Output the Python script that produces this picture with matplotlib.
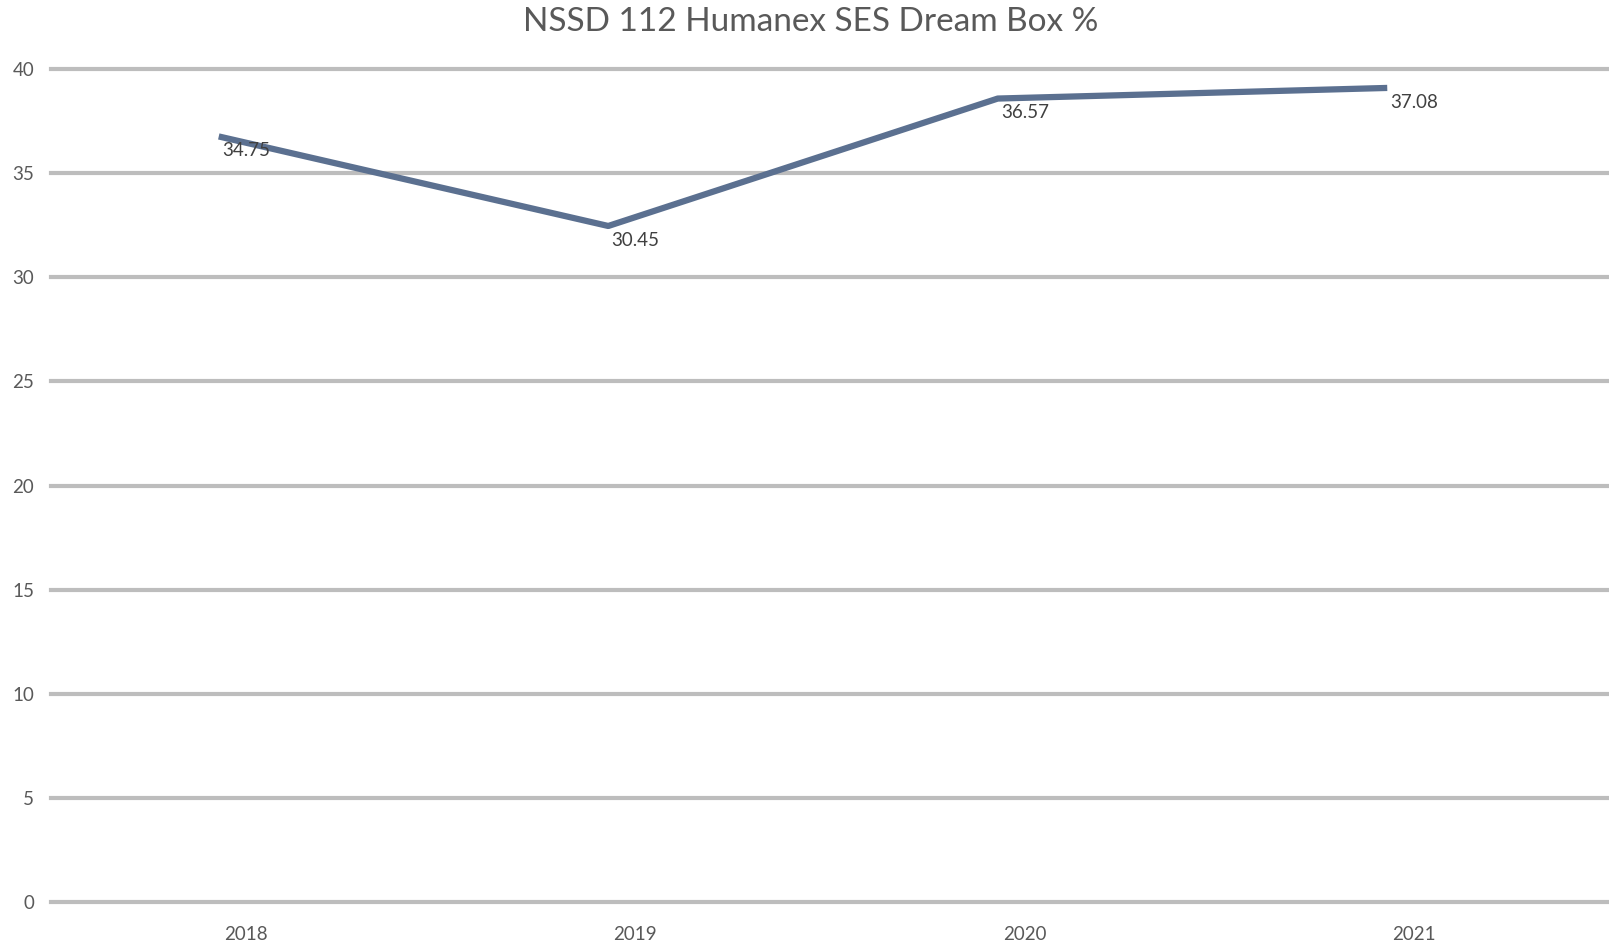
import numpy as np
import matplotlib.pyplot as plt
from matplotlib.transforms import ScaledTranslation

# data
years = ['2018', '2019', '2020', '2021']
dream_box = [34.75, 30.45, 36.57, 37.08]
yticks = [0, 5, 10, 15, 20, 25, 30, 35, 40]

plt.rcParams['font.family'] = ['Lato', 'DejaVu Sans']

fig = plt.figure(figsize=(16.09, 9.47), dpi=100)
ax = fig.add_axes([0.0317, 0.0475, 0.9683, 0.8795])

x = np.arange(len(years))

# the line in the source sits a bit up and left of the labelled values
shift = ScaledTranslation(-0.27, 0.42, fig.dpi_scale_trans)
ax.plot(x, dream_box, color='#5b7090', lw=4.5, solid_capstyle='butt',
        transform=ax.transData + shift, zorder=3)

for i, v in enumerate(dream_box):
    ax.annotate(f'{v:.2f}', (i, v), xytext=(0, 20), textcoords='offset points',
                ha='center', va='center', fontsize=13.5, color='#404040', zorder=4)

ax.set_xlim(-0.5, len(years) - 0.5)
ax.set_ylim(0, 40)
ax.set_xticks(x)
ax.set_xticklabels(years)
ax.set_yticks(yticks)
ax.tick_params(axis='both', length=0, labelsize=13.5, labelcolor='#595959')
ax.tick_params(axis='x', pad=17)
ax.tick_params(axis='y', pad=12)
ax.grid(axis='y', color='#bdbdbd', lw=3)
for gl in ax.get_ygridlines():
    gl.set_clip_on(False)
ax.set_axisbelow(True)
for s in ax.spines.values():
    s.set_visible(False)

fig.suptitle('NSSD 112 Humanex SES Dream Box %', x=0.504, y=0.977, va='center',
             fontsize=24, color='#595959')

fig.savefig('out.png', dpi=100)
